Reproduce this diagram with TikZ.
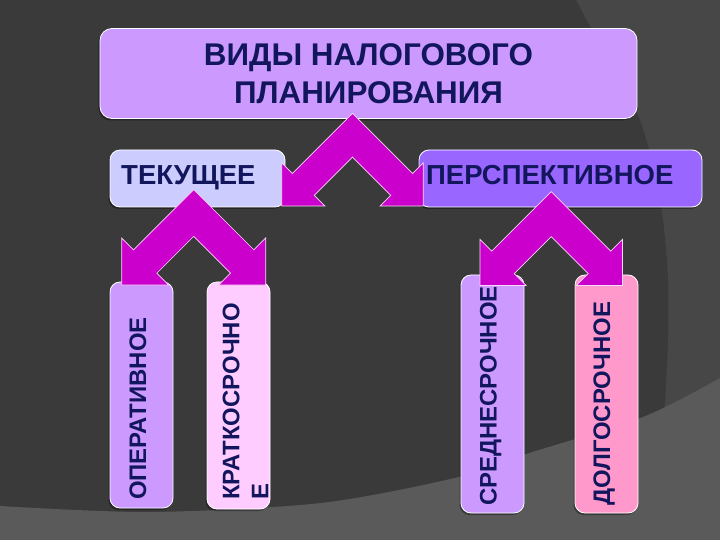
\documentclass[tikz,border=0pt]{standalone}
\usepackage{fontspec}
\setmainfont{Liberation Sans}
\usetikzlibrary{shadows}
\definecolor{bgdark}{HTML}{3A3A3A}
\definecolor{bgmid}{HTML}{474747}
\definecolor{bglight}{HTML}{5A5A5A}
\definecolor{navy}{RGB}{18,22,92}
\definecolor{violetA}{HTML}{CC99FF}
\definecolor{lavender}{HTML}{CCCCFF}
\definecolor{purpleB}{HTML}{9966FF}
\definecolor{pinkA}{HTML}{FFCCFF}
\definecolor{pinkB}{HTML}{FF99CC}
\definecolor{chevfill}{HTML}{CC00CC}
\tikzset{
  box/.style={draw=white, line width=0.8bp, rounded corners=10bp, inner sep=0pt,
    general shadow={fill=black, opacity=.35, shadow xshift=-1.5bp, shadow yshift=-2bp}},
  lbl/.style={text=navy, font=\bfseries\fontsize{27.6}{32}\selectfont, inner sep=0pt},
  vlbl/.style={text=navy, font=\bfseries\fontsize{24}{29}\selectfont, inner sep=0pt, rotate=90},
  chev/.style={fill=chevfill, draw=white!85!chevfill, line width=0.7bp, line join=miter},
}
% block chevron arrow: centre x, tip y, half span, head width*sqrt2, arm thickness*sqrt2
\newcommand\chevarrow[5]{%
  \filldraw[chev] ({#1-#3},#2) -- ({#1-#3},{#2-#4})
    -- ({#1-#3+#4/2-#5/2},{#2-#4/2-#5/2}) -- (#1,{#2-#3-#5})
    -- ({#1+#3-#4/2+#5/2},{#2-#4/2-#5/2}) -- ({#1+#3},{#2-#4})
    -- ({#1+#3},#2) -- ({#1+#3-#4},#2)
    -- ({#1+#3-#4/2-#5/2},{#2-#4/2+#5/2}) -- (#1,{#2-#3+#5})
    -- ({#1-#3+#4/2+#5/2},{#2-#4/2+#5/2}) -- ({#1-#3+#4},#2) -- cycle;}
\begin{document}
\begin{tikzpicture}[x=1bp,y=-1bp]
\useasboundingbox (0,0) rectangle (720,540);
% background
\fill[bgmid] (0,0) rectangle (720,540);
\fill[bgdark] (0,0) -- plot[smooth] coordinates {(576,0) (592,30) (615,70) (638,115) (653,165) (663,220) (668,280) (668,340) (665,400) (660,450)} -- (660,540) -- (0,540) -- cycle;
\fill[bglight] (0,540) -- plot[smooth] coordinates {(0,506) (150,512) (321,503) (459,477) (523,455) (643,417) (720,378)} -- (720,540) -- cycle;
% boxes
\node[box, fill=violetA, rounded corners=12bp, minimum width=537bp, minimum height=90bp,
  text=navy, font=\bfseries\fontsize{31.5}{38}\selectfont, align=center] (top) at (368.5,73.5) {ВИДЫ НАЛОГОВОГО\\ПЛАНИРОВАНИЯ};
\node[box, fill=lavender, minimum width=175bp, minimum height=57bp] (tek) at (197.5,178.5) {};
\node[box, fill=purpleB, minimum width=283bp, minimum height=57bp] (persp) at (560.5,178.5) {};
\node[box, fill=violetA, minimum width=63bp, minimum height=226bp] (oper) at (141.5,395) {};
\node[box, fill=pinkA, minimum width=63bp, minimum height=227bp] (krat) at (238.5,395.5) {};
\node[box, fill=violetA, minimum width=63bp, minimum height=238bp] (sred) at (492.5,394) {};
\node[box, fill=pinkB, minimum width=63bp, minimum height=238bp] (dolg) at (606.5,394) {};
% labels
\node[lbl, anchor=base west] (tekt) at (121,185) {ТЕКУЩЕЕ};
\node[lbl, anchor=base west] (perspt) at (426,185) {ПЕРСПЕКТИВНОЕ};
\node[vlbl, anchor=base west] (opert) at (146,500) {ОПЕРАТИВНОЕ};
\node[vlbl, anchor=north west, align=left] (kratt) at (222.5,500) {КРАТКОСРОЧНО\\Е};
\node[vlbl, anchor=base west] (sredt) at (496.5,506) {СРЕДНЕСРОЧНОЕ};
\node[vlbl, anchor=base west] (dolgt) at (610,506) {ДОЛГОСРОЧНОЕ};
% arrows
\chevarrow{352.5}{206}{70.8}{43.1}{21.9}
\chevarrow{193.7}{285}{72}{47}{23.3}
\chevarrow{551.2}{285.4}{71.2}{46}{22.5}
\end{tikzpicture}
\end{document}
